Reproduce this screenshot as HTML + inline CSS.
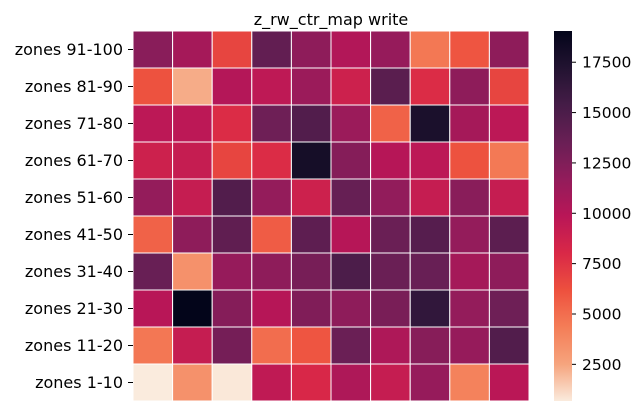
<!DOCTYPE html>
<html><head><meta charset="utf-8"><style>
body{margin:0;background:#fff;}
svg text{font-family:"DejaVu Sans","Liberation Sans",sans-serif;fill:#000;}
</style></head><body>
<svg id="chart" width="644" height="411" viewBox="0 0 644 411" xmlns="http://www.w3.org/2000/svg">
<text x="331" y="25" font-size="16" text-anchor="middle">z_rw_ctr_map write</text>
<g id="cells"></g><g id="ylabels"></g>
<defs><linearGradient id="cbgrad" x1="0" y1="1" x2="0" y2="0"></linearGradient></defs>
<rect x="554" y="31" width="18" height="370" fill="url(#cbgrad)"/>
<g id="cbticks"></g>
</svg>
<script>
const rows = ["zones 91-100","zones 81-90","zones 71-80","zones 61-70","zones 51-60","zones 41-50","zones 31-40","zones 21-30","zones 11-20","zones 1-10"];
const values = [
[12100,10800,6700,13900,11900,10200,11500,4550,6000,11900],
[6100,2300,10100,9600,11300,8750,14300,7850,11900,6700],
[9700,9700,7850,13300,14700,11300,5450,17600,10800,9700],
[8750,9200,6700,7850,17900,12300,10000,9700,6100,4500],
[11600,9200,14700,11600,8750,13700,11700,9200,12100,9200],
[5450,11900,14000,5700,14100,10000,13500,14500,11600,14200],
[13600,3400,11500,11900,12900,15000,13500,13600,10800,11900],
[9900,19050,12300,10000,12500,11900,12800,16400,11600,13300],
[4600,9200,13000,5000,6000,13500,10400,12200,11500,14700],
[680,3400,750,9500,8100,10400,9200,11500,4100,9800]
];
const cbTicks = [2500,5000,7500,10000,12500,15000,17500];
const stops=[[0,[3,5,26]],[0.1,[34,19,49]],[0.2,[69,28,71]],[0.3,[105,31,85]],[0.4,[146,28,91]],[0.5,[185,22,87]],[0.6,[217,40,71]],[0.7,[237,80,62]],[0.8,[244,125,87]],[0.9,[246,164,125]],[1,[250,235,221]]];
function rocket(t){t=Math.max(0,Math.min(1,t));for(let i=1;i<stops.length;i++){if(t<=stops[i][0]){const a=stops[i-1],b=stops[i],f=(t-a[0])/(b[0]-a[0]);return 'rgb('+a[1].map((c,k)=>Math.round(c+(b[1][k]-c)*f)).join(',')+')';}}return 'rgb(250,235,221)';}
const flat=values.flat(),vmin=Math.min(...flat),vmax=Math.max(...flat);
const X0=133,X1=529,Y0=31,Y1=401,cw=(X1-X0)/10,ch=(Y1-Y0)/rows.length;
function col(v){return rocket(1-(v-vmin)/(vmax-vmin));}
const NS="http://www.w3.org/2000/svg";
const cells=document.getElementById('cells'),yl=document.getElementById('ylabels');
values.forEach((r,i)=>{r.forEach((v,j)=>{const el=document.createElementNS(NS,'rect');


el.setAttribute('x',X0+j*cw);el.setAttribute('y',Y0+i*ch);el.setAttribute('width',cw);el.setAttribute('height',ch);el.setAttribute('fill',col(v));el.setAttribute('stroke','#fff');el.setAttribute('stroke-width','1');cells.appendChild(el);});
const yc=Y0+(i+0.5)*ch;
const t=document.createElementNS(NS,'text');


t.setAttribute('x',123);t.setAttribute('y',yc+5.5);t.setAttribute('font-size','16');t.setAttribute('text-anchor','end');t.textContent=rows[i];yl.appendChild(t);
const l=document.createElementNS(NS,'line');


l.setAttribute('x1',128);l.setAttribute('x2',133);l.setAttribute('y1',yc);l.setAttribute('y2',yc);l.setAttribute('stroke','#000');yl.appendChild(l);});
const g=document.getElementById('cbgrad');
for(let k=0;k<=20;k++){const s=document.createElementNS(NS,'stop');s.setAttribute('offset',k/20);s.setAttribute('stop-color',rocket(1-k/20));g.appendChild(s);}
const cb=document.getElementById('cbticks');
cbTicks.forEach(v=>{const y=Y1-(v-vmin)/(vmax-vmin)*(Y1-Y0);
const l=document.createElementNS(NS,'line');


l.setAttribute('x1',572);l.setAttribute('x2',576);l.setAttribute('y1',y);l.setAttribute('y2',y);l.setAttribute('stroke','#000');cb.appendChild(l);
const t=document.createElementNS(NS,'text');


t.setAttribute('x',582);t.setAttribute('y',y+5.5);t.setAttribute('font-size','15.5');t.textContent=v;cb.appendChild(t);});
</script>
</body></html>
